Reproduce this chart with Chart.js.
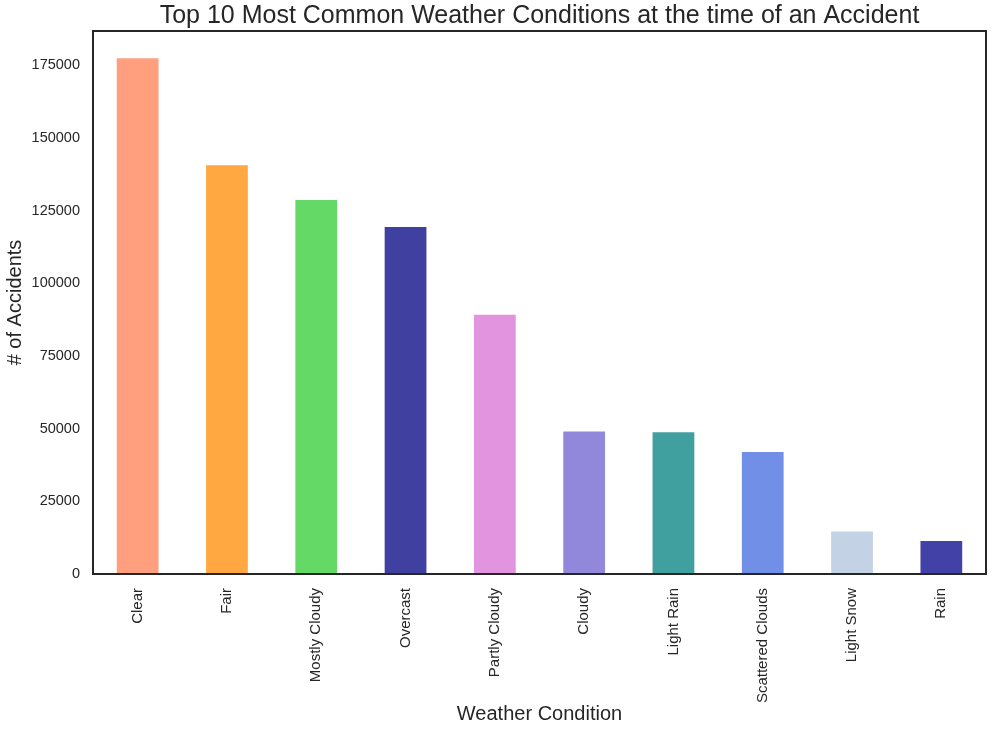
<!DOCTYPE html>
<html>
<head>
<meta charset="utf-8">
<script src="https://cdn.jsdelivr.net/npm/chart.js@4"></script>
<style>
  html, body { margin: 0; padding: 0; background: #fff; }
  #wrap { width: 992px; height: 732px; }
</style>
</head>
<body>
<div id="wrap"><canvas id="c" width="992" height="732"></canvas></div>
<script>
const categories = ["Clear", "Fair", "Mostly Cloudy", "Overcast", "Partly Cloudy", "Cloudy", "Light Rain", "Scattered Clouds", "Light Snow", "Rain"];
const accidents = [177800, 141000, 129000, 119700, 89500, 49400, 49100, 42300, 15000, 11700];
const barColors = ["#FF9F7E", "#FFA741", "#65D966", "#4040A0", "#E394DF", "#9288DB", "#40A0A0", "#728FE8", "#C4D2E6", "#4141A8"];
const yTicks = [0, 25000, 50000, 75000, 100000, 125000, 150000, 175000];
const yMax = 186800;

const FONT = "'Liberation Sans', Arial, sans-serif";
const TXT = "#262626";

const framePlugin = {
  id: 'frame',
  afterDatasetsDraw(chart) {
    const a = chart.chartArea, ctx = chart.ctx;
    ctx.save();
    ctx.strokeStyle = '#262626';
    ctx.lineWidth = 2;
    ctx.strokeRect(a.left, a.top, a.right - a.left, a.bottom - a.top);
    ctx.restore();
  }
};

new Chart(document.getElementById('c'), {
  type: 'bar',
  data: {
    labels: categories,
    datasets: [{
      data: accidents,
      backgroundColor: barColors,
      borderColor: 'rgba(255,255,255,0.45)',
      borderWidth: 1,
      categoryPercentage: 1.0,
      barPercentage: 0.49
    }]
  },
  options: {
    responsive: false,
    animation: false,
    layout: { padding: { left: 0, right: 6, top: 0, bottom: 0 } },
    plugins: {
      legend: { display: false },
      tooltip: { enabled: false },
      title: {
        display: true,
        text: 'Top 10 Most Common Weather Conditions at the time of an Accident',
        color: TXT,
        font: { family: FONT, size: 25, weight: 'normal' },
        padding: { top: 1, bottom: 0 },
        fullSize: false
      }
    },
    scales: {
      x: {
        grid: { display: false, drawTicks: false },
        border: { display: false },
        ticks: {
          color: TXT,
          font: { family: FONT, size: 15 },
          minRotation: 90, maxRotation: 90,
          padding: 14,
          autoSkip: false
        },
        title: {
          display: true,
          text: 'Weather Condition',
          color: TXT,
          font: { family: FONT, size: 20 },
          padding: { top: 0, bottom: 6 }
        },
        afterFit(s) { s.height = 158; }
      },
      y: {
        min: 0,
        max: yMax,
        grid: { display: false, drawTicks: false },
        border: { display: false },
        afterBuildTicks(s) { s.ticks = yTicks.map(v => ({ value: v })); },
        ticks: {
          color: TXT,
          font: { family: FONT, size: 14.5 },
          padding: 13,
          callback: v => String(v)
        },
        title: {
          display: true,
          text: '# of Accidents',
          color: TXT,
          font: { family: FONT, size: 20 },
          padding: { top: 3, bottom: 0 }
        },
        afterFit(s) { s.width = 93; }
      }
    }
  },
  plugins: [framePlugin]
});
</script>
</body>
</html>
